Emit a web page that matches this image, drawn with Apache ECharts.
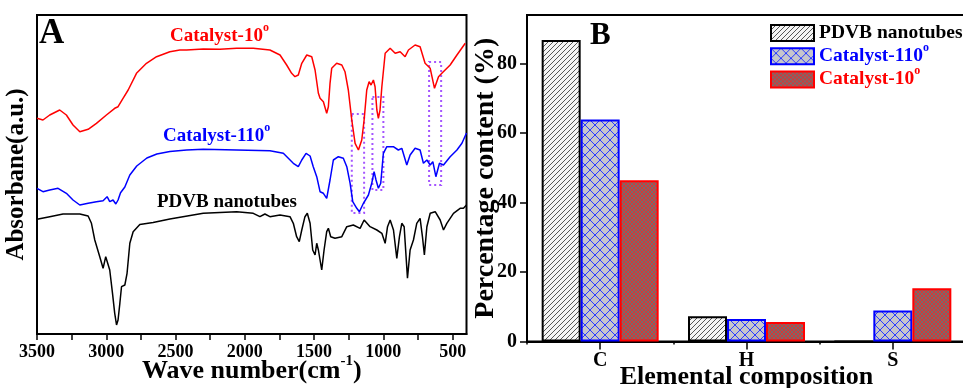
<!DOCTYPE html>
<html><head><meta charset="utf-8">
<script src="https://cdn.jsdelivr.net/npm/echarts@6/dist/echarts.min.js"></script>
<style>html,body{margin:0;padding:0;background:#fff}#c{width:963px;height:388px}</style>
</head><body><div id="c"></div>
<script>
// ---------- Panel A: FTIR spectra (wave number, absorbance a.u.) ----------
const cat10Wave = [3500,3457,3408,3336,3288,3240,3191,3131,3071,2999,2939,2915,2879,2842,2782,2710,2637,2541,2469,2420,2300,2180,2059,1939,1819,1746,1698,1662,1638,1614,1589,1553,1517,1493,1469,1457,1433,1409,1397,1385,1373,1337,1300,1277,1253,1228,1204,1180,1156,1139,1120,1103,1089,1072,1060,1047,1036,1024,1011,987,951,915,879,843,819,771,735,699,662,631,602,578,518,469,409];
const cat10Abs = [215.7,214,219,224,219,209,202.3,204.7,210.7,219,225.7,227.3,235.7,244,260.7,270.7,277.3,282.3,284,284,285,284.7,285.7,285.7,284,279,269,260.7,257.3,259,270.7,279,277.3,264,240.7,235.7,232.3,220.7,227.3,250.7,265.7,270.7,269,262.3,244,214,190.7,184,194,214,244,252.3,249,254,247.3,224,215.7,224,247.3,280.7,285.7,280.7,282.3,277.3,284,289,287.3,270.7,265.7,245.7,257.3,260.7,269,279,290.7];

const cat110Wave = [3500,3457,3408,3348,3288,3240,3191,3131,3071,3023,2994,2975,2951,2931,2915,2897,2866,2830,2780,2707,2635,2541,2420,2300,2059,1819,1722,1650,1614,1589,1558,1529,1506,1481,1457,1433,1409,1385,1361,1325,1289,1264,1240,1221,1192,1173,1144,1108,1084,1067,1053,1036,1019,1000,975,928,892,867,831,807,771,735,711,686,662,643,621,595,566,518,469,433,400];
const cat110Abs = [145.7,142.3,144,145.7,140.7,134,129,130.7,132.3,133.3,137.3,132.3,134,130,134,141.3,147,159,168,176,180,182.5,184,184.7,184,183.3,180.7,170.7,167.3,174,180.7,178,167.3,157.3,142.3,140.7,135.7,154,174,177.3,175.7,167.3,150.7,132.3,125.7,122.3,130.7,139,150.7,162.3,154,145.7,150.7,180.7,187.3,187.3,184,185.7,169,179,185.7,184,170.7,174,169,172.3,157.3,170.7,169,177.3,184,190.7,201];

const pdvbWave = [3500,3408,3312,3191,3131,3107,3083,3047,3023,3004,2991,2975,2955,2939,2926,2915,2902,2890,2866,2850,2830,2806,2758,2662,2541,2300,2059,1939,1891,1855,1819,1746,1674,1650,1626,1607,1589,1566,1549,1529,1510,1493,1481,1469,1445,1428,1409,1397,1380,1349,1300,1264,1217,1168,1139,1096,1047,1011,987,970,951,927,903,884,867,850,826,807,783,759,735,718,704,686,662,626,590,566,542,494,446,422,400];
const pdvbAbs = [114.7,117.3,120,120,118,110.7,94,77.3,65.7,77.3,79,64,40.7,20.7,9,14,30.7,47.3,49,60.7,90.7,102.3,109.5,111.5,115,120.7,122.3,120.7,117.3,120,117.3,119,117.3,110.7,97.3,92.3,104,117.3,120.7,110.7,84,79,90.7,84,64,84,102.3,105.7,97.3,95.7,97.3,107.3,109,105.7,114,107.3,104,100.7,90.7,107.3,114,104,75.7,97.3,110.7,107.3,55.7,84,94,110.7,115.7,97.3,79,107.3,120.7,122.3,114,104,110.7,120.7,125.7,125.7,129];

// dotted highlight boxes: [wave from, wave to, abs top, abs bottom]
const boxWaveFrom = [1228, 1079, 670];
const boxWaveTo = [1139, 1000, 583];
const boxAbsTop = [220, 237, 272];
const boxAbsBottom = [121, 144, 149];

const waveTicks = [500,750,1000,1250,1500,1750,2000,2250,2500,2750,3000,3250,3500];
const waveLabels = [500,1000,1500,2000,2500,3000,3500];

// ---------- Panel B: elemental composition (%) ----------
const elements = ['C', 'H', 'S'];
const pdvbContent = [86.8, 7.3, 0];
const cat110Content = [63.9, 6.5, 8.9];
const cat10Content = [46.4, 5.6, 15.3];
const contentTicks = [0, 20, 40, 60, 80];
const contentMinorTicks = [10, 30, 50, 70, 90];

const names = ['PDVB nanotubes', 'Catalyst-110°', 'Catalyst-10°'];

function zip(a, b) { return a.map((v, i) => [v, b[i]]); }

function makePattern(size, bg, fg, draw) {
  const c = document.createElement('canvas');
  c.width = size; c.height = size;
  const g = c.getContext('2d');
  g.fillStyle = bg; g.fillRect(0, 0, size, size);
  g.strokeStyle = fg; g.lineWidth = 1;
  draw(g, size);
  return { image: c, repeat: 'repeat' };
}
const slash = (g, s) => { g.beginPath(); g.moveTo(0, s); g.lineTo(s, 0); g.moveTo(-1, 1); g.lineTo(1, -1); g.moveTo(s - 1, s + 1); g.lineTo(s + 1, s - 1); g.stroke(); };
const cross = (g, s) => { g.beginPath(); g.moveTo(0, 0); g.lineTo(s, s); g.moveTo(s, 0); g.lineTo(0, s); g.stroke(); };
const patPDVB = makePattern(5, '#f4f4f4', '#555', slash);
const pat110 = makePattern(10, '#c6c6cc', '#2a3cff', cross);
const pat10 = makePattern(4, '#cf3b3b', '#7a6a6a', cross);

const FONT = '"Liberation Serif","Times New Roman",serif';
const sup = (fs, color) => ({ fontSize: fs, fontWeight: 'bold', fontFamily: FONT, verticalAlign: 'top', lineHeight: fs, color: color });
const numFmt = v => String(v);

const chart = echarts.init(document.getElementById('c'), null, { renderer: 'canvas' });
const markData = boxWaveFrom.map((w, i) => [{ xAxis: w, yAxis: boxAbsTop[i] }, { xAxis: boxWaveTo[i], yAxis: boxAbsBottom[i] }]);

chart.setOption({
  animation: false,
  backgroundColor: '#fff',
  grid: [
    { left: 37, top: 15, width: 429.5, height: 319, show: true, borderColor: '#000', borderWidth: 2, backgroundColor: 'transparent', outerBoundsMode: 'none', containLabel: false },
    { left: 527, top: 15, width: 439, height: 326.5, show: true, borderColor: '#000', borderWidth: 2, backgroundColor: 'transparent', outerBoundsMode: 'none', containLabel: false }
  ],
  xAxis: [
    { gridIndex: 0, type: 'value', min: 400, max: 3500, inverse: true,
      axisLine: { show: true, lineStyle: { color: '#000', width: 2 } },
      axisTick: { show: true, inside: false, length: 6, customValues: waveTicks, lineStyle: { color: '#000', width: 1.5 } },
      axisLabel: { customValues: waveLabels, formatter: numFmt, color: '#000', fontSize: 18, fontWeight: 'bold', fontFamily: FONT, margin: 9 },
      splitLine: { show: false },
      name: 'Wave number(cm{sup|-1})', nameLocation: 'middle', nameGap: 20, nameMoveOverlap: false,
      nameTextStyle: { color: '#000', fontSize: 26, fontWeight: 'bold', fontFamily: FONT, lineHeight: 34, rich: { sup: sup(15, '#000') } } },
    { gridIndex: 1, type: 'category', data: elements,
      axisLine: { show: true, lineStyle: { color: '#000', width: 2 } },
      axisTick: { show: true, alignWithLabel: true, length: 8, lineStyle: { color: '#000', width: 1.5 } },
      axisLabel: { color: '#000', fontSize: 20, fontWeight: 'bold', fontFamily: FONT, margin: 9 },
      name: 'Elemental composition', nameLocation: 'middle', nameGap: 23, nameMoveOverlap: false,
      nameTextStyle: { color: '#000', fontSize: 26, fontWeight: 'bold', fontFamily: FONT, lineHeight: 26 } },
    { gridIndex: 1, type: 'category', data: elements, position: 'bottom',
      axisLine: { show: false }, axisLabel: { show: false },
      axisTick: { show: true, length: 3, lineStyle: { color: '#000', width: 1.5 } } }
  ],
  yAxis: [
    { gridIndex: 0, type: 'value', min: 0, max: 319,
      axisLine: { show: false }, axisTick: { show: false }, axisLabel: { show: false }, splitLine: { show: false },
      name: 'Absorbane(a.u.)', nameLocation: 'middle', nameGap: 8, nameMoveOverlap: false,
      nameTextStyle: { color: '#000', fontSize: 25, fontWeight: 'bold', fontFamily: FONT } },
    { gridIndex: 1, type: 'value', min: 0, max: 94,
      axisLine: { show: true, lineStyle: { color: '#000', width: 2 } },
      axisTick: { show: true, length: 7, customValues: contentTicks, lineStyle: { color: '#000', width: 1.5 } },
      axisLabel: { customValues: contentTicks, formatter: numFmt, color: '#000', fontSize: 20, fontWeight: 'bold', fontFamily: FONT, margin: 10 },
      splitLine: { show: false },
      name: 'Percentage content (%)', nameLocation: 'middle', nameGap: 27, nameMoveOverlap: false,
      nameTextStyle: { color: '#000', fontSize: 28, fontWeight: 'bold', fontFamily: FONT } },
    { gridIndex: 1, type: 'value', min: 0, max: 94,
      axisLine: { show: false }, axisLabel: { show: false }, splitLine: { show: false },
      axisTick: { show: true, length: 4, customValues: contentMinorTicks, lineStyle: { color: '#000', width: 1.5 } } }
  ],
  legend: {
    left: 770, top: 19, padding: 0, orient: 'vertical', icon: 'rect', itemWidth: 43, itemHeight: 16, itemGap: -4.8,
    data: [
      { name: names[0], textStyle: { color: '#000' } },
      { name: names[1], textStyle: { color: '#0000ff' } },
      { name: names[2], textStyle: { color: '#ff0000' } }
    ],
    formatter: n => n.replace('°', '{sup|o}'),
    textStyle: { fontSize: 19.5, fontWeight: 'bold', fontFamily: FONT, lineHeight: 28, rich: { sup: sup(12) } }
  },
  series: [
    { type: 'line', xAxisIndex: 0, yAxisIndex: 0, data: zip(cat10Wave, cat10Abs), showSymbol: false, symbol: 'none',
      lineStyle: { color: '#ff0000', width: 1.5 }, silent: true,
      markArea: { silent: true, itemStyle: { color: 'rgba(0,0,0,0)', borderColor: '#a455ff', borderWidth: 2, borderType: [2, 3] }, data: markData } },
    { type: 'line', xAxisIndex: 0, yAxisIndex: 0, data: zip(cat110Wave, cat110Abs), showSymbol: false, symbol: 'none',
      lineStyle: { color: '#0000ff', width: 1.5 }, silent: true },
    { type: 'line', xAxisIndex: 0, yAxisIndex: 0, data: zip(pdvbWave, pdvbAbs), showSymbol: false, symbol: 'none',
      lineStyle: { color: '#000', width: 1.5 }, silent: true },
    { name: names[0], type: 'bar', xAxisIndex: 1, yAxisIndex: 1, data: pdvbContent, barWidth: 39, barGap: '0%',
      itemStyle: { color: patPDVB, borderColor: '#000', borderWidth: 2 } },
    { name: names[1], type: 'bar', xAxisIndex: 1, yAxisIndex: 1, data: cat110Content, barWidth: 39, barGap: '0%',
      itemStyle: { color: pat110, borderColor: '#0000ff', borderWidth: 2 } },
    { name: names[2], type: 'bar', xAxisIndex: 1, yAxisIndex: 1, data: cat10Content, barWidth: 39, barGap: '0%',
      itemStyle: { color: pat10, borderColor: '#ff0000', borderWidth: 2 } }
  ],
  graphic: [
    { type: 'text', x: 39, y: 34, style: { text: 'A', font: 'bold 35px ' + FONT, fill: '#000', verticalAlign: 'middle' } },
    { type: 'text', x: 590, y: 36, style: { text: 'B', font: 'bold 31px ' + FONT, fill: '#000', verticalAlign: 'middle' } },
    { type: 'text', x: 170, y: 36, style: { text: 'Catalyst-10{sup|o}', fontSize: 19, fontWeight: 'bold', fontFamily: FONT, fill: '#ff0000', verticalAlign: 'middle', lineHeight: 28, rich: { sup: Object.assign(sup(12), { fill: '#ff0000' }) } } },
    { type: 'text', x: 163, y: 136, style: { text: 'Catalyst-110{sup|o}', fontSize: 19, fontWeight: 'bold', fontFamily: FONT, fill: '#0000ff', verticalAlign: 'middle', lineHeight: 28, rich: { sup: Object.assign(sup(12), { fill: '#0000ff' }) } } },
    { type: 'text', x: 157, y: 202, style: { text: 'PDVB nanotubes', fontSize: 19, fontWeight: 'bold', fontFamily: FONT, fill: '#000', verticalAlign: 'middle' } }
  ]
});
</script>
</body></html>
